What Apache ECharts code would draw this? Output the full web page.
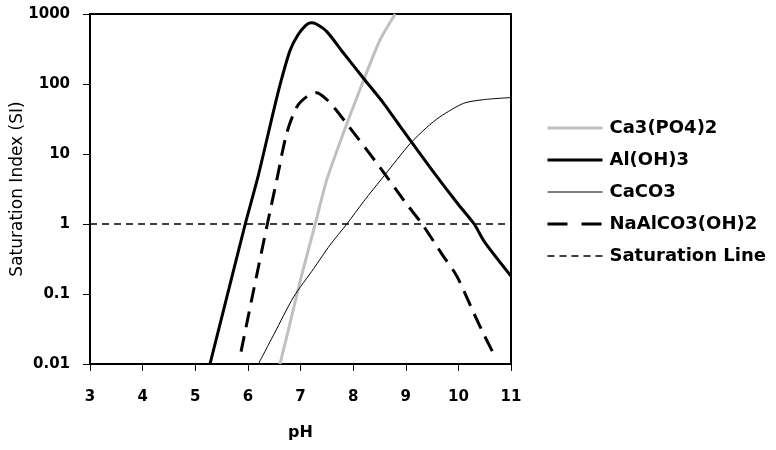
<!DOCTYPE html>
<html>
<head>
<meta charset="utf-8">
<script src="https://cdn.jsdelivr.net/npm/echarts@6/dist/echarts.min.js"></script>
<style>
html,body{margin:0;padding:0;background:#fff;}
#chart{width:776px;height:450px;}
</style>
</head>
<body>
<div id="chart"></div>
<script>
// ---- data ----
const xTicks = [3, 4, 5, 6, 7, 8, 9, 10, 11];
const yTickLabels = ['0.01', '0.1', '1', '10', '100', '1000'];

const caPO4_pH = [6.61, 6.8, 7.0, 7.28, 7.5, 7.88, 8.2, 8.51, 8.8];
const caPO4_SI = [0.01, 0.038, 0.16, 1.0, 4.3, 27, 114, 425, 1000];

const alOH_pH = [5.28, 5.6, 5.95, 6.2, 6.5, 6.65, 6.8, 6.95, 7.1, 7.2, 7.3, 7.5, 7.82, 8.2, 8.58, 8.89, 9.5, 10.0, 10.3, 10.5, 11.0];
const alOH_SI = [0.01, 0.09, 1.0, 5, 45, 125, 300, 500, 690, 750, 720, 560, 275, 120, 53, 25, 5.9, 1.9, 1.0, 0.55, 0.18];

const caCO3_pH = [6.2, 6.5, 6.87, 7.25, 7.56, 7.88, 8.2, 8.6, 9.08, 9.4, 9.65, 10.1, 10.5, 11.0];
const caCO3_SI = [0.01, 0.027, 0.091, 0.23, 0.5, 1.0, 2.1, 5.0, 14, 24, 34, 53, 60, 64];

const naAl_pH = [5.87, 6.1, 6.37, 6.55, 6.74, 6.93, 7.12, 7.3, 7.5, 7.65, 7.88, 8.5, 9.0, 9.31, 9.7, 9.97, 10.3, 10.5, 10.7];
const naAl_SI = [0.015, 0.105, 1.0, 4.3, 20, 47, 66, 75, 60, 45, 27, 6.6, 2.0, 1.0, 0.36, 0.18, 0.052, 0.025, 0.0126];

const satLine_pH = [3, 11];
const satLine_SI = [1, 1];

const seriesNames = ['Ca3(PO4)2', 'Al(OH)3', 'CaCO3', 'NaAlCO3(OH)2', 'Saturation Line'];

function pairs(xs, ys) { return xs.map((x, i) => [x, ys[i]]); }

const FONT = 'DejaVu Sans';
const styles = [
  {color: '#c0c0c0', width: 3, type: 'solid', legendType: 'solid'},
  {color: '#000', width: 3, type: 'solid', legendType: 'solid'},
  {color: '#000', width: 1, type: 'solid', legendType: 'solid'},
  {color: '#000', width: 3, type: [16, 9], legendType: [20, 14]},
  {color: '#000', width: 1.4, type: [7, 5], legendType: [7, 5]}
];
const smoothness = [0.2, 0.25, 0.25, 0.3, 0];
const xs = [caPO4_pH, alOH_pH, caCO3_pH, naAl_pH, satLine_pH];
const ys = [caPO4_SI, alOH_SI, caCO3_SI, naAl_SI, satLine_SI];

const chart = echarts.init(document.getElementById('chart'), null, {renderer: 'canvas'});
chart.setOption({
  animation: false,
  backgroundColor: '#fff',
  grid: {left: 90, top: 14, width: 421, height: 350, show: true, borderColor: '#000', borderWidth: 2,
         containLabel: false, outerBoundsMode: 'none'},
  legend: {
    orient: 'vertical', left: 546, top: 119, padding: 0,
    itemWidth: 55, itemHeight: 14, itemGap: 14,
    itemStyle: {color: 'rgba(0,0,0,0)', borderWidth: 0, opacity: 0},
    textStyle: {fontFamily: FONT, fontWeight: 'bold', fontSize: 18, color: '#000', padding: [0, 0, 0, 2]},
    data: seriesNames.map((n, i) => ({
      name: n,
      lineStyle: {color: styles[i].color, width: styles[i].width, type: styles[i].legendType}
    }))
  },
  xAxis: {
    type: 'value', min: xTicks[0], max: xTicks[xTicks.length - 1], interval: 1,
    name: 'pH', nameLocation: 'middle', nameGap: 61, nameMoveOverlap: false,
    nameTextStyle: {fontFamily: FONT, fontWeight: 'bold', fontSize: 16, color: '#000'},
    axisLine: {show: true, onZero: false, lineStyle: {color: '#000', width: 2}},
    axisTick: {show: true, length: 7, lineStyle: {color: '#000', width: 1}},
    axisLabel: {margin: 26, fontFamily: FONT, fontWeight: 'bold', fontSize: 15, color: '#000'},
    splitLine: {show: false}
  },
  yAxis: {
    type: 'log', logBase: 10, min: 0.01, max: 1000,
    name: 'Saturation Index (SI)', nameLocation: 'middle', nameGap: 64, nameMoveOverlap: false,
    nameTextStyle: {fontFamily: FONT, fontSize: 17, color: '#000'},
    axisLine: {show: true, lineStyle: {color: '#000', width: 2}},
    axisTick: {show: true, length: 7, lineStyle: {color: '#000', width: 1}},
    axisLabel: {
      margin: 20, fontFamily: FONT, fontWeight: 'bold', fontSize: 15, color: '#000',
      formatter: function (v) {
        const e = Math.round(Math.log10(v));
        return yTickLabels[e + 2];
      }
    },
    splitLine: {show: false},
    minorTick: {show: false}
  },
  series: seriesNames.map((n, i) => ({
    name: n, type: 'line', data: pairs(xs[i], ys[i]),
    symbol: 'none', smooth: smoothness[i],
    lineStyle: {color: styles[i].color, width: styles[i].width, type: styles[i].type},
    itemStyle: {color: styles[i].color}
  }))
});
</script>
</body>
</html>
